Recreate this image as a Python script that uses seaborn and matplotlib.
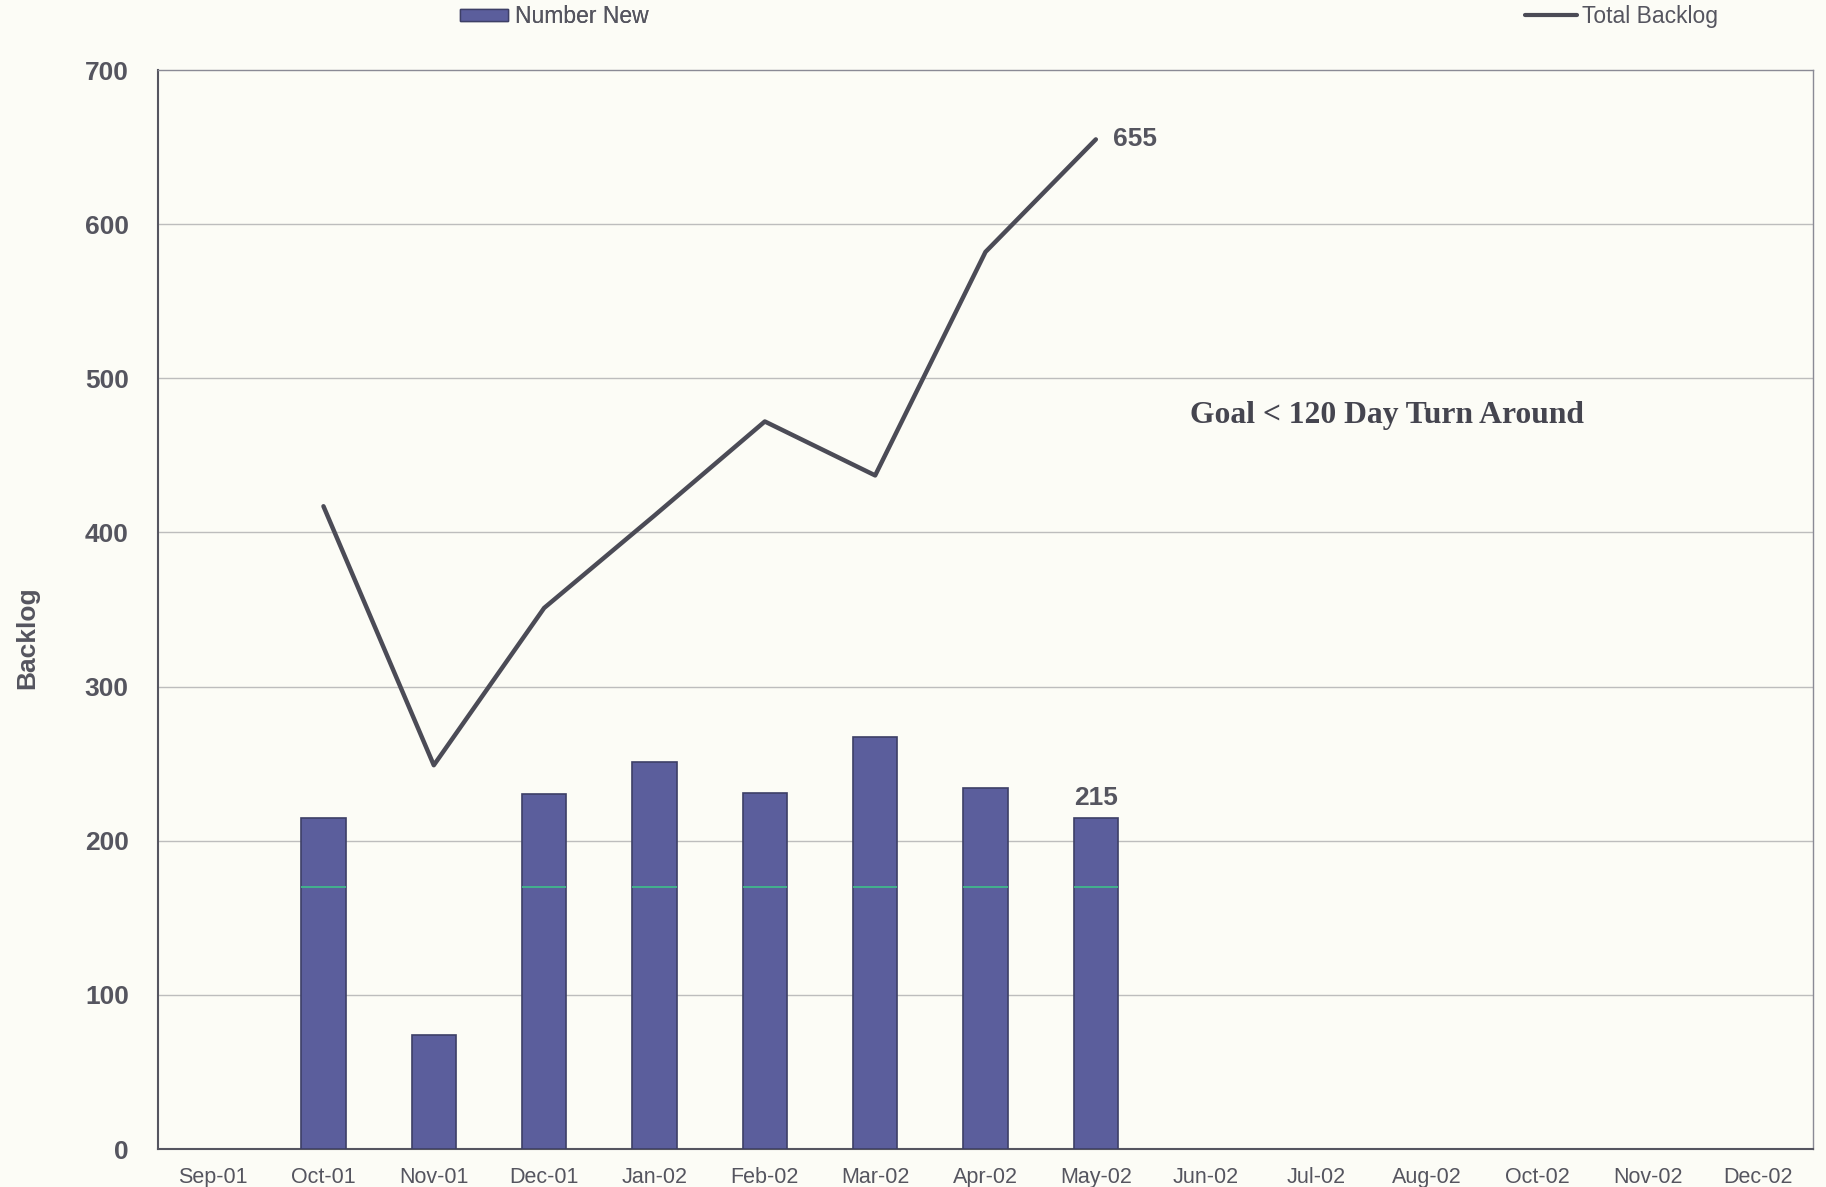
import numpy as np
import pandas as pd
import matplotlib
matplotlib.use("Agg")
import matplotlib.pyplot as plt
import seaborn as sns
from matplotlib.patches import Patch
from matplotlib.lines import Line2D

months = ["Sep-01", "Oct-01", "Nov-01", "Dec-01", "Jan-02", "Feb-02", "Mar-02",
          "Apr-02", "May-02", "Jun-02", "Jul-02", "Aug-02", "Oct-02", "Nov-02", "Dec-02"]
bar_months = ["Oct-01", "Nov-01", "Dec-01", "Jan-02", "Feb-02", "Mar-02", "Apr-02", "May-02"]
number_new = [215, 74, 230, 251, 231, 267, 234, 215]
line_months = ["Oct-01", "Nov-01", "Dec-01", "Jan-02", "Feb-02", "Mar-02", "Apr-02", "May-02"]
total_backlog = [417, 249, 351, 411, 472, 437, 582, 655]
inner_line_level = 170
y_ticks = [0, 100, 200, 300, 400, 500, 600, 700]

bg = "#fcfcf6"
bar_color = "#5b5e9c"
line_color = "#4b4b56"
text_color = "#55555f"

sns.set_theme(style="white")
plt.rcParams["font.family"] = ["Liberation Sans", "DejaVu Sans"]

fig = plt.figure(figsize=(18.26, 11.87), dpi=100, facecolor=bg)
ax = fig.add_axes([0.0865, 0.032, 0.9064, 0.909])
ax.set_facecolor(bg)

df_bar = pd.DataFrame({"month": bar_months, "new": number_new})
sns.barplot(data=df_bar, x="month", y="new", order=months, color=bar_color,
            width=0.4, edgecolor="#3d3f66", linewidth=1.2, saturation=1, ax=ax, zorder=3)

# thin green line visible inside the bars
for p in ax.patches:
    if p.get_height() > inner_line_level:
        ax.hlines(inner_line_level, p.get_x(), p.get_x() + p.get_width(),
                  color="#3fc08a", lw=1.2, zorder=4)

pos = [months.index(m) for m in line_months]
df_line = pd.DataFrame({"pos": pos, "backlog": total_backlog})
sns.lineplot(data=df_line, x="pos", y="backlog", color=line_color, lw=3.2,
             ax=ax, zorder=5, legend=False)

ax.set_xlim(-0.5, len(months) - 0.5)
ax.set_ylim(0, 700)
ax.set_yticks(y_ticks)
ax.set_yticklabels([str(v) for v in y_ticks], fontsize=19, fontweight="bold", color=text_color)
ax.set_xticks(range(len(months)))
ax.set_xticklabels(months, fontsize=15.5, color=text_color)
ax.set_xticks(np.arange(-0.5, len(months), 1.0), minor=True)
ax.tick_params(axis="x", which="major", length=0, pad=13)
ax.tick_params(axis="x", which="minor", length=7, width=1, color="#777777", direction="out")
ax.tick_params(axis="y", which="major", length=7, width=1, color="#777777", pad=14, direction="out")
ax.set_xlabel("")
ax.set_ylabel("Backlog", fontsize=19, fontweight="bold", color=text_color)
ax.yaxis.set_label_coords(-0.0715, 0.474)

for y in y_ticks[1:-1]:
    ax.axhline(y, color="#bdbdbd", lw=1.0, zorder=1)

for side, sp in ax.spines.items():
    sp.set_visible(True)
    sp.set_linewidth(1.5 if side in ("left", "bottom") else 1.0)
    sp.set_color("#555560" if side in ("left", "bottom") else "#8a8a95")

ax.text(pos[-1] + 0.16, total_backlog[-1], str(total_backlog[-1]), fontsize=19,
        fontweight="bold", color=text_color, va="center", ha="left")
ax.text(months.index(bar_months[-1]), number_new[-1] + 5, str(number_new[-1]), fontsize=19,
        fontweight="bold", color=text_color, va="bottom", ha="center")
ax.text(8.85, 476, "Goal < 120 Day Turn Around", fontsize=22.8, fontweight="bold",
        family=["Liberation Serif", "DejaVu Serif"], color="#45454f", va="center", ha="left")

leg1 = fig.legend(handles=[Patch(facecolor=bar_color, edgecolor="#3d3f66", label="Number New")],
                  loc="center left", bbox_to_anchor=(0.252, 0.986), frameon=False,
                  fontsize=16.5, handlelength=2.1, handleheight=0.45, handletextpad=0.3,
                  borderpad=0, borderaxespad=0)
for t in leg1.get_texts():
    t.set_color(text_color)
leg2 = fig.legend(handles=[Line2D([0], [0], color=line_color, lw=3, label="Total Backlog")],
                  loc="center left", bbox_to_anchor=(0.835, 0.986), frameon=False,
                  fontsize=16.5, handlelength=2.3, handletextpad=0.2,
                  borderpad=0, borderaxespad=0)
for t in leg2.get_texts():
    t.set_color(text_color)
fig.add_artist(leg1)

fig.savefig("out.png", dpi=100, facecolor=bg)
